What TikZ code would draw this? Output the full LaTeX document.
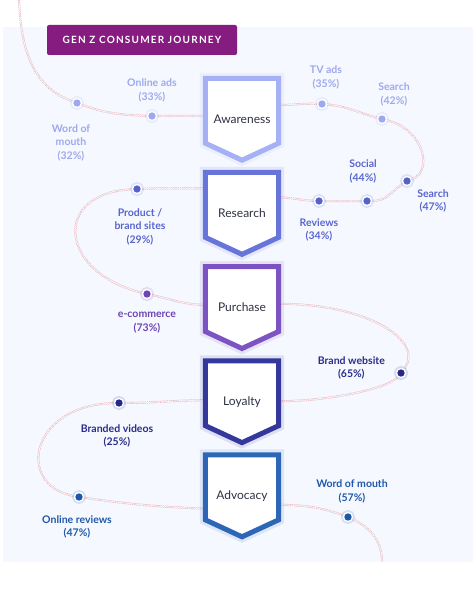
\documentclass[tikz,border=0pt]{standalone}
\usepackage{fontspec}
\setmainfont{Lato}
\newfontfamily\titlefont{Lato}[LetterSpace=12]
\usetikzlibrary{positioning, backgrounds, calc}
\definecolor{bgcol}{HTML}{F5F8FE}
\definecolor{trailcol}{HTML}{E6A3A8}
\definecolor{titlecol}{HTML}{871C80}
\definecolor{stagetext}{HTML}{2F3245}
\definecolor{awarecol}{HTML}{A5B0F5}
\definecolor{rescol}{HTML}{6774DA}
\definecolor{purcol}{HTML}{7C53C3}
\definecolor{loycol}{HTML}{34379C}
\definecolor{advcol}{HTML}{2E66B7}
\definecolor{awaredot}{HTML}{9DA8F0}
\definecolor{resdot}{HTML}{5462CC}
\definecolor{purdot}{HTML}{6B44B6}
\definecolor{loydot}{HTML}{25288A}
\definecolor{advdot}{HTML}{1C57AB}
\definecolor{awarelab}{HTML}{9EA9EE}
\definecolor{reslab}{HTML}{5A66CF}
\definecolor{purlab}{HTML}{6B45B5}
\definecolor{loylab}{HTML}{2A2C8C}
\definecolor{advlab}{HTML}{1F58A8}
\tikzset{%
	stage/.style={minimum width=73pt, minimum height=81.5pt, inner sep=0pt,%
		font=\fontsize{12}{14}\selectfont, text=stagetext},
	outline/.style={draw=#1, line width=5pt, fill=white, line join=miter,%
		preaction={draw=#1, line width=11pt, opacity=0.12}},
	dot/.style={circle, draw=white, line width=1.3pt, fill=#1, minimum size=9pt, inner sep=0pt,%
		preaction={draw=#1, line width=5pt, opacity=0.15}},
	lab/.style={align=center, inner sep=0pt, font=\bfseries\fontsize{10.5}{13.5}\selectfont, text=#1},
	trail/.style={draw=trailcol, double=bgcol, double distance=1.1pt, line width=0.45pt,%
		dash pattern=on 1.3pt off 0.9pt},
	titlebox/.style={fill=titlecol, rounded corners=2pt, minimum width=190pt, minimum height=30pt,%
		text=white, font=\titlefont\bfseries\fontsize{10}{12}\selectfont}
}
\begin{document}
\begin{tikzpicture}[x=1pt, y=-1pt]
	\useasboundingbox (0,0) rectangle (473,607);
	
	% stages
	\node[stage] (aware) at (242,119.25) {Awareness};
	\node[stage, below=12.25pt of aware] (research) {Research};
	\node[stage, below=12.25pt of research] (purchase) {Purchase};
	\node[stage, below=12.25pt of purchase] (loyalty) {Loyalty};
	\node[stage, below=12.25pt of loyalty] (advocacy) {Advocacy};
	
	\node[titlebox] (title) at (142,40) {GEN Z CONSUMER JOURNEY};
	
	% touchpoints
	\node[dot=awaredot] (wom1) at (77,103) {};
	\node[dot=awaredot] (ads1) at (152,116) {};
	\node[dot=awaredot] (tv) at (322,104) {};
	\node[dot=awaredot] (srch1) at (382,119) {};
	\node[dot=resdot] (srch2) at (407,181) {};
	\node[dot=resdot] (social) at (367,201) {};
	\node[dot=resdot] (reviews) at (319,201) {};
	\node[dot=resdot] (brand) at (137,189) {};
	\node[dot=purdot] (ecom) at (147,294) {};
	\node[dot=loydot] (site) at (401,373) {};
	\node[dot=loydot] (videos) at (119,403) {};
	\node[dot=advdot] (onrev) at (79,497) {};
	\node[dot=advdot] (wom2) at (348,517) {};
	
	\node[lab=awarelab, above=8.6pt of ads1] (ads1-l) {Online ads\\(33\%)};
	\node[lab=awarelab, below=15.9pt of wom1, xshift=-6pt] (wom1-l) {Word of\\mouth\\(32\%)};
	\node[lab=awarelab, above=9.6pt of tv, xshift=4pt] (tv-l) {TV ads\\(35\%)};
	\node[lab=awarelab, above=7.6pt of srch1, xshift=12pt] (srch1-l) {Search\\(42\%)};
	\node[lab=reslab, below=2.9pt of srch2, xshift=26pt] (srch2-l) {Search\\(47\%)};
	\node[lab=reslab, above=12.6pt of social, xshift=-4pt] (social-l) {Social\\(44\%)};
	\node[lab=reslab, below=11.9pt of reviews] (reviews-l) {Reviews\\(34\%)};
	\node[lab=reslab, below=13.9pt of brand, xshift=3pt] (brand-l) {Product /\\brand sites\\(29\%)};
	\node[lab=purlab, below=12.9pt of ecom] (ecom-l) {e-commerce\\(73\%)};
	\node[lab=loylab, left=10.8pt of site, yshift=5pt] (site-l) {Brand website\\(65\%)};
	\node[lab=loylab, below=15.9pt of videos, xshift=-2pt] (videos-l) {Branded videos\\(25\%)};
	\node[lab=advlab, below=12.9pt of onrev, xshift=-2pt] (onrev-l) {Online reviews\\(47\%)};
	\node[lab=advlab, above=8.6pt of wom2, xshift=4pt] (wom2-l) {Word of mouth\\(57\%)};
	
	\coordinate (start) at (19,-2);
	\coordinate (finish) at (382,562);
	
	\begin{scope}[on background layer]
		\fill[bgcol] (3,27) rectangle (473,562);
		
		% the journey
		\draw[trail] (start) to[out=-88, in=160] (wom1) to[out=-20, in=178] (ads1)
			-- ([yshift=3.25pt]aware.west);
		\draw[trail] ([yshift=14.25pt]aware.east) to[out=0, in=178] (tv) to[out=-5, in=165] (srch1)
			.. controls +(43,11) and +(26,-9) .. (srch2)
			.. controls +(-15,10) and +(20,0) .. (social) -- (reviews)
			to[out=178, in=0] ([yshift=16pt]research.east);
		\draw[trail] ([yshift=25pt]research.west) to[out=180, in=2] (brand)
			.. controls +(-85,4) and +(-89,-22) .. (ecom)
			to[out=-12, in=180] ([yshift=2.75pt]purchase.west);
		\draw[trail] ([yshift=3.75pt]purchase.east) .. controls +(91.5,0) and +(24,-31) .. (site)
			.. controls +(-12,15) and +(51.5,0) .. ([yshift=0.5pt]loyalty.east);
		\draw[trail] ([yshift=1.5pt]loyalty.west) to[out=180, in=0] (videos)
			.. controls +(-89,2) and +(-64,-12) .. (onrev)
			to[out=-8, in=178] ([yshift=-12.75pt]advocacy.west);
		\draw[trail] ([yshift=-8.75pt]advocacy.east) to[out=-2, in=160] (wom2)
			to[out=-25, in=90] (finish);
		
		\foreach \s/\c in {aware/awarecol, research/rescol, purchase/purcol, loyalty/loycol, advocacy/advcol}
			\draw[outline=\c] (\s.north west) -- (\s.north east) -- ([yshift=17pt]\s.south east)
				-- (\s.south) -- ([yshift=17pt]\s.south west) -- cycle;
	\end{scope}
\end{tikzpicture}
\end{document}
